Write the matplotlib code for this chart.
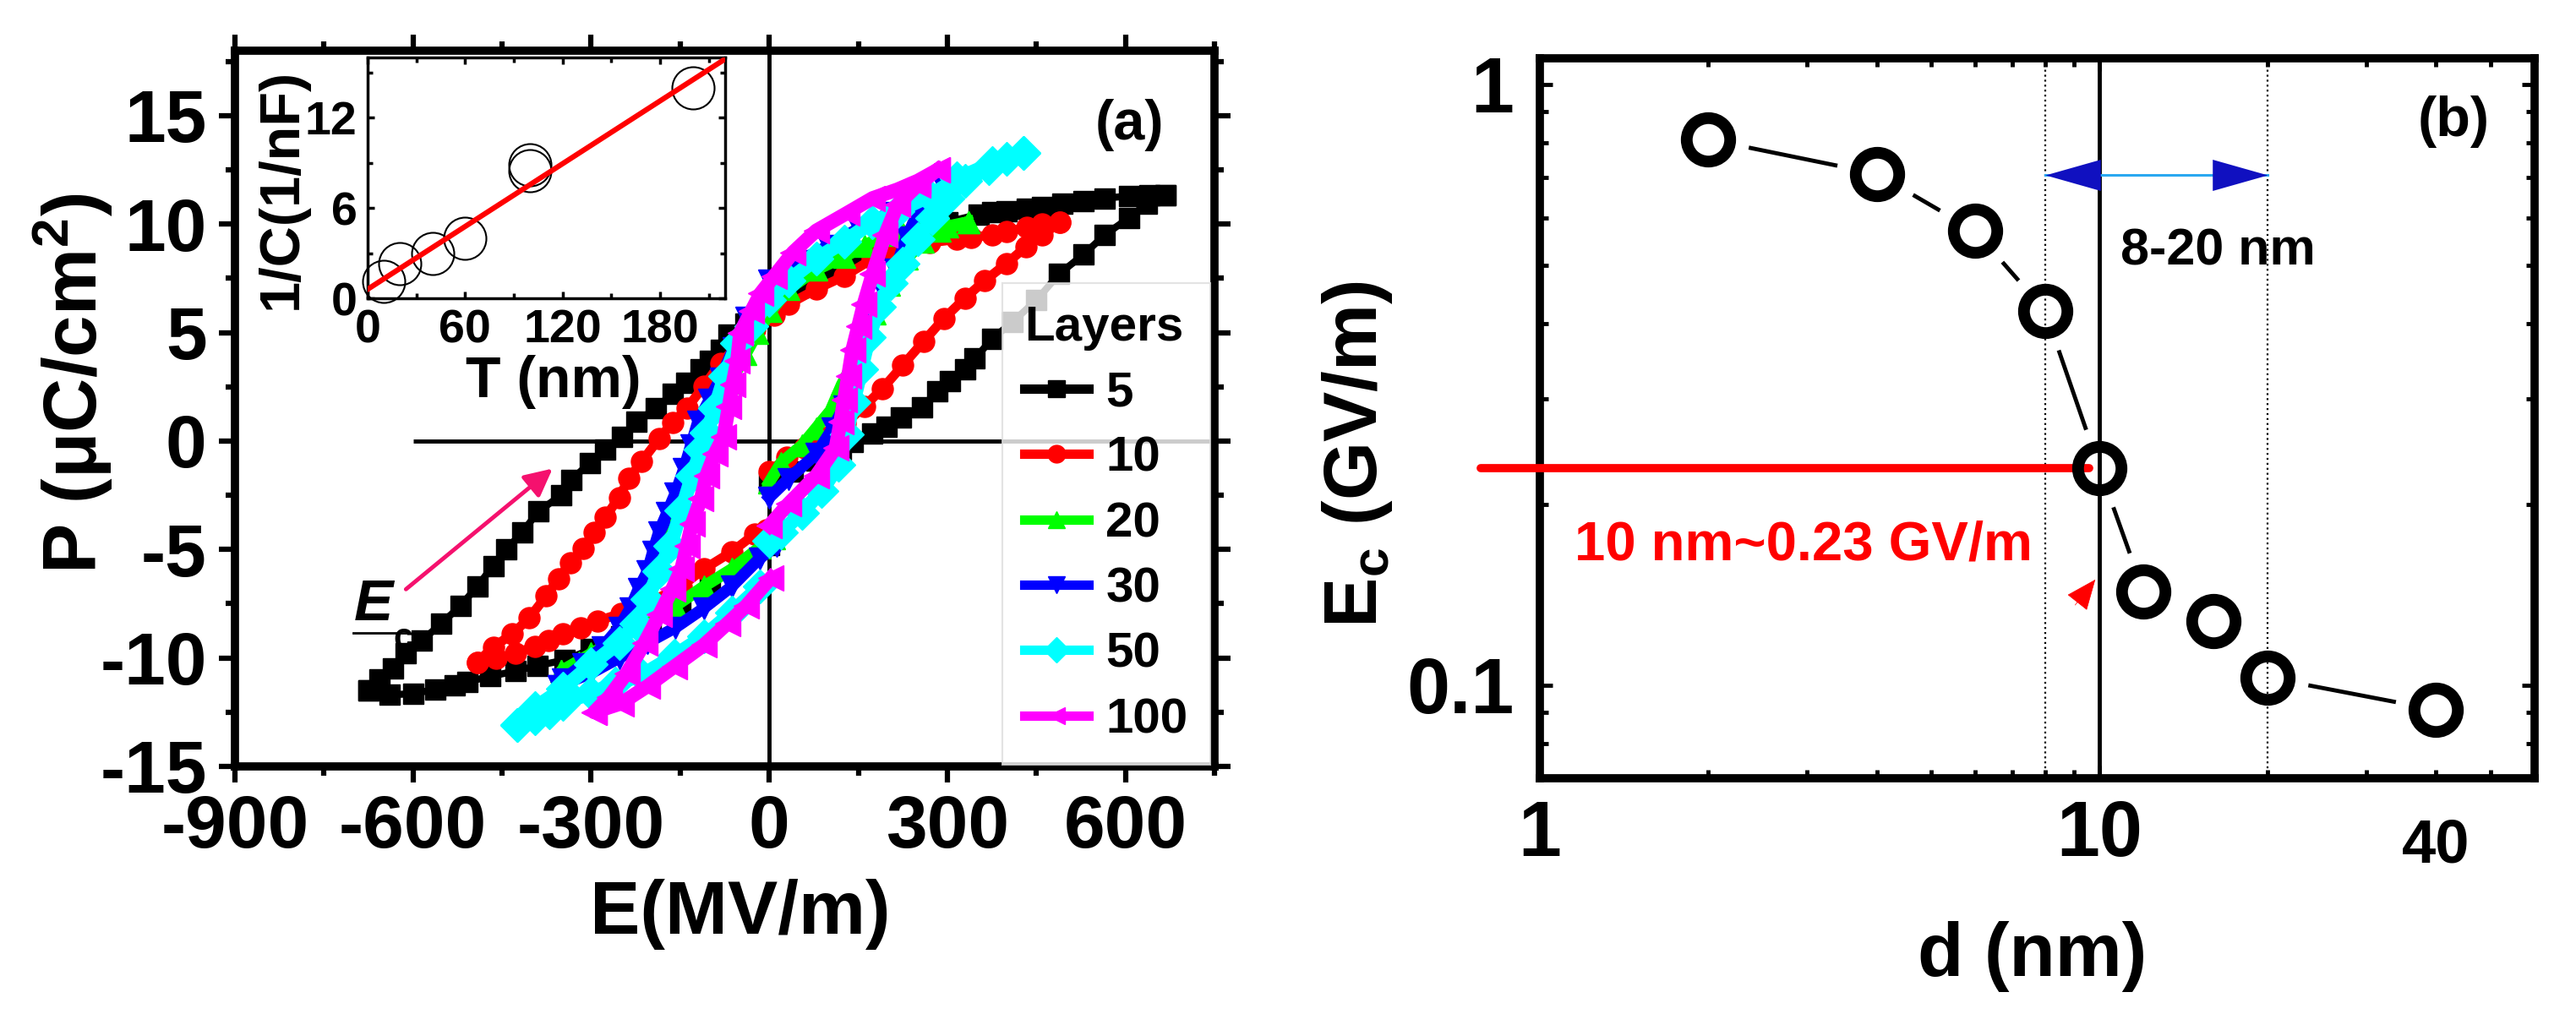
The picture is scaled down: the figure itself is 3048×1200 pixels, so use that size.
import numpy as np
import matplotlib.pyplot as plt
from matplotlib.lines import Line2D
from matplotlib.ticker import MultipleLocator, NullFormatter
from matplotlib.transforms import blended_transform_factory

plt.rcParams['font.family'] = ['Liberation Sans', 'DejaVu Sans']
plt.rcParams['font.weight'] = 'bold'
plt.rcParams['axes.labelweight'] = 'bold'
plt.rcParams['axes.unicode_minus'] = False
plt.rcParams['mathtext.fontset'] = 'custom'
plt.rcParams['mathtext.rm'] = 'Liberation Sans:bold'
plt.rcParams['mathtext.bf'] = 'Liberation Sans:bold'
plt.rcParams['mathtext.it'] = 'Liberation Sans:bold:italic'

# ---------------- panel (a): P-E loops, (E [MV/m], P [uC/cm2]) ----------------
LAYERS = ["5", "10", "20", "30", "50", "100"]
COLORS = ["black", "#ff0000", "#00ff00", "#0000ff", "#00ffff", "#ff00ff"]
MARKERS = ["s", "o", "^", "v", "D", "<"]

# falling branch (+Emax -> -Emax), rising branch up to E=0, rising branch from E=0
L5_DOWN = [(667, 11.35), (640, 11.35), (606, 11.3), (565, 11.2), (529, 11.05), (494, 10.95),
           (460, 10.8), (434, 10.7), (400, 10.6), (375, 10.55), (352, 10.45), (300, 10.1),
           (250, 9.7), (200, 9.2), (150, 8.6), (100, 7.9), (50, 7.1), (0, 6.2), (-40, 5.4),
           (-68, 4.9), (-82, 4.2), (-100, 3.7), (-115, 3.3), (-140, 2.7), (-163, 2.2),
           (-191, 1.5), (-224, 0.9), (-248, 0.2), (-276, -0.4), (-302, -1.0), (-334, -1.8),
           (-351, -2.5), (-389, -3.25), (-416, -4.2), (-443, -5.0), (-465, -5.75),
           (-492, -6.7), (-520, -7.6), (-552, -8.4), (-585, -9.2), (-612, -9.8),
           (-634, -10.5), (-656, -11.0), (-675, -11.5)]
L5_UP_NEG = [(-675, -11.5), (-640, -11.7), (-600, -11.65), (-563, -11.45), (-530, -11.25),
             (-509, -11.1), (-470, -10.85), (-427, -10.6), (-390, -10.35), (-345, -10.1),
             (-300, -9.6), (-250, -9.0), (-200, -8.3), (-150, -7.5), (-100, -6.6),
             (-50, -5.7), (0, -4.8)]
L5_UP_POS = [(0, -1.9), (40, -1.4), (80, -0.9), (120, -0.4), (141, -0.05), (174, 0.35),
             (198, 0.65), (221, 1.1), (257, 1.55), (283, 2.3), (304, 2.75), (330, 3.3),
             (346, 3.8), (375, 4.7), (410, 5.5), (450, 6.5), (488, 7.7), (529, 8.6),
             (565, 9.5), (606, 10.3), (636, 10.95), (667, 11.35)]

L10_DOWN = [(490, 10.1), (460, 10.0), (434, 9.85), (400, 9.65), (375, 9.5), (340, 9.4),
            (316, 9.3), (270, 9.15), (230, 9.0), (200, 8.8), (174, 8.4), (126, 7.6),
            (79, 7.0), (32, 6.3), (8, 5.8), (-25, 5.15), (-54, 4.4), (-82, 3.6),
            (-110, 2.55), (-139, 1.5), (-163, 0.85), (-186, 0.1), (-215, -0.95),
            (-236, -1.7), (-253, -2.6), (-276, -3.5), (-295, -4.2), (-314, -4.95),
            (-335, -5.6), (-355, -6.35), (-376, -7.15), (-404, -8.15), (-433, -8.9),
            (-465, -9.5), (-492, -10.2)]
L10_UP_NEG = [(-492, -10.2), (-460, -10.0), (-427, -9.8), (-395, -9.45), (-372, -9.2),
              (-347, -8.9), (-318, -8.6), (-290, -8.3), (-250, -7.95), (-200, -7.4),
              (-148, -6.7), (-110, -5.9), (-63, -5.1), (-25, -4.3), (-5, -4.1)]
L10_UP_POS = [(0, -1.4), (30, -0.75), (60, -0.3), (100, 0.2), (128, 0.8), (160, 1.6),
              (190, 2.4), (225, 3.5), (260, 4.6), (294, 5.65), (330, 6.6), (363, 7.4),
              (400, 8.2), (432, 8.95), (460, 9.5), (490, 10.1)]

L20_DOWN = [(335, 10.1), (300, 9.9), (257, 9.75), (225, 9.6), (193, 9.5), (160, 9.0),
            (126, 8.5), (79, 7.9), (32, 7.0), (3, 6.0), (-20, 5.0), (-40, 4.0), (-65, 2.7),
            (-90, 1.5), (-112, 0.4), (-130, -0.6), (-146, -1.7), (-160, -2.8), (-175, -3.9),
            (-188, -4.9), (-200, -5.9), (-213, -6.8), (-230, -7.8), (-255, -8.8),
            (-290, -9.7), (-320, -10.2), (-350, -10.6)]
L20_UP_NEG = [(-350, -10.6), (-300, -9.8), (-253, -9.1), (-205, -8.3), (-158, -7.6),
              (-110, -6.7), (-63, -5.9), (-16, -4.9), (8, -4.5)]
L20_UP_POS = [(0, -1.9), (20, -1.0), (55, -0.2), (79, 0.6), (103, 1.4), (122, 2.6),
              (141, 3.6), (164, 5.0), (178, 5.9), (202, 7.2), (231, 8.4), (259, 9.2),
              (287, 9.7), (335, 10.1)]

L30_DOWN = [(295, 11.7), (250, 11.2), (200, 10.5), (150, 9.8), (100, 9.0), (50, 8.3),
            (0, 7.4), (-39, 5.7), (-60, 4.3), (-82, 2.9), (-101, 1.9), (-120, 0.9),
            (-132, -0.2), (-144, -1.3), (-158, -2.4), (-172, -3.3), (-186, -4.2),
            (-196, -5.1), (-205, -6.0), (-220, -6.8), (-234, -7.7), (-253, -8.6),
            (-281, -9.5), (-314, -10.3), (-347, -11.0), (-355, -11.3)]
L30_UP_NEG = [(-355, -11.3), (-300, -10.7), (-253, -10.0), (-205, -9.3), (-158, -8.6),
              (-110, -7.7), (-63, -6.7), (-16, -5.4), (12, -4.85)]
L30_UP_POS = [(0, -2.6), (32, -1.75), (79, -0.6), (107, 0.6), (126, 1.6), (145, 2.9),
              (160, 4.2), (174, 5.5), (193, 6.8), (212, 7.9), (231, 9.4), (259, 11.0),
              (295, 11.7)]

L50_DOWN = [(428, 13.3), (375, 12.8), (316, 12.1), (270, 11.3), (216, 10.6), (174, 10.1),
            (126, 9.2), (79, 8.4), (32, 7.4), (0, 6.5), (-30, 5.3), (-54, 4.5), (-75, 3.0),
            (-92, 1.5), (-105, 0.4), (-115, -0.4), (-130, -1.6), (-148, -3.2),
            (-167, -4.85), (-186, -6.0), (-205, -7.3), (-224, -8.4), (-253, -9.3),
            (-300, -10.3), (-347, -11.4), (-395, -12.3), (-425, -13.1)]
L50_UP_NEG = [(-425, -13.1), (-395, -12.8), (-371, -12.5), (-347, -12.1), (-300, -11.6),
              (-260, -11.2), (-215, -10.8), (-160, -9.9), (-110, -9.0), (-63, -7.9),
              (-16, -6.7)]
L50_UP_POS = [(0, -4.6), (20, -4.2), (55, -3.3), (88, -2.3), (117, -1.1), (130, 0.3),
              (142, 1.8), (155, 3.3), (168, 4.8), (185, 6.2), (205, 7.3), (225, 8.2),
              (250, 9.3), (275, 10.3), (300, 11.2), (330, 12.0), (370, 12.6), (400, 13.0),
              (428, 13.3)]

L100_DOWN = [(283, 12.5), (250, 12.0), (216, 11.6), (174, 11.2), (130, 10.5), (79, 9.7),
             (40, 8.7), (8, 7.6), (-15, 6.8), (-30, 6.0), (-49, 5.0), (-54, 3.7), (-62, 2.6),
             (-68, 1.6), (-77, 0.2), (-92, -0.6), (-106, -1.6), (-115, -2.65), (-130, -3.8),
             (-139, -4.85), (-148, -5.9), (-163, -6.8), (-185, -8.0), (-210, -9.3),
             (-240, -10.7), (-270, -11.8), (-295, -12.5)]
L100_UP_NEG = [(-295, -12.5), (-250, -12.1), (-205, -11.3), (-160, -10.4), (-110, -9.4),
               (-70, -8.4), (-39, -7.6), (3, -6.3)]
L100_UP_POS = [(0, -3.9), (32, -2.9), (79, -1.6), (112, -0.3), (120, 0.9), (126, 1.9),
               (133, 3.0), (140, 4.2), (150, 5.3), (159, 6.3), (174, 7.7), (195, 9.5),
               (216, 10.9), (250, 11.8), (283, 12.5)]

LOOPS = {
    "5": (L5_DOWN, L5_UP_NEG, L5_UP_POS),
    "10": (L10_DOWN, L10_UP_NEG, L10_UP_POS),
    "20": (L20_DOWN, L20_UP_NEG, L20_UP_POS),
    "30": (L30_DOWN, L30_UP_NEG, L30_UP_POS),
    "50": (L50_DOWN, L50_UP_NEG, L50_UP_POS),
    "100": (L100_DOWN, L100_UP_NEG, L100_UP_POS),
}
MSIZE = [17, 18, 19, 19, 20, 21]
LWIDTH = [6, 8, 10, 10, 12, 12]

# inset: 1/C vs thickness
INSET_T = [10, 20, 40, 60, 100, 100, 200]
INSET_INV_C = [1.1, 2.3, 2.95, 4.0, 8.5, 8.9, 14.0]
FIT_T = [0, 220]
FIT_INV_C = [0.6, 15.9]

# ---------------- panel (b): Ec vs d ----------------
D_NM = [2, 4, 6, 8, 10, 12, 16, 20, 40]
EC = [0.81, 0.71, 0.57, 0.42, 0.23, 0.143, 0.128, 0.103, 0.091]
RANGE_NM = [8, 20]
CRIT_D = 10
CRIT_EC = 0.23
ARROW_EC = 0.706

fig = plt.figure(figsize=(30.48, 12), dpi=100)

# ======================= (a) =======================
ax = fig.add_axes([0.0912, 0.2442, 0.3803, 0.7058])

for i, name in enumerate(LAYERS):
    down, up_neg, up_pos = LOOPS[name]
    pts = np.vstack([np.array(down), np.array(up_neg),
                     [[np.nan, np.nan]], np.array(up_pos)])
    ax.plot(pts[:, 0], pts[:, 1], color=COLORS[i], marker=MARKERS[i],
            ms=MSIZE[i], mec=COLORS[i], lw=LWIDTH[i], zorder=3 + i)

ax.axvline(0, color="black", lw=3.5, zorder=2)
ax.hlines(0, -600, 750, color="black", lw=3.5, zorder=2)

ax.set_xlim(-900, 750)
ax.set_ylim(-15, 18)
ax.set_xticks(np.arange(-900, 601, 300))
ax.xaxis.set_minor_locator(MultipleLocator(150))
ax.set_yticks(np.arange(-15, 16, 5))
ax.yaxis.set_minor_locator(MultipleLocator(2.5))
ax.tick_params(which="both", direction="out", top=True, right=True, width=4.5)
ax.tick_params(which="major", length=14, labelsize=63, pad=10)
ax.tick_params(which="minor", length=8)
for s in ax.spines.values():
    s.set_linewidth(7)

ax.set_xlabel("E(MV/m)", fontsize=64)
ax.xaxis.set_label_coords(0.516, -0.157)
ax.set_ylabel(r"P (μC/cm$^\mathbf{2}$)", fontsize=64)
ax.yaxis.set_label_coords(-0.1225, 0.535)

# E_c arrow
ax.annotate("", xy=(-362, -1.2), xytext=(-615, -6.9),
            arrowprops=dict(arrowstyle="-|>,head_length=0.9,head_width=0.45",
                            color="#f5116e", lw=3.5, mutation_scale=22))
ax.text(-666, -7.55, "E", style="italic", fontsize=50, ha="center", va="center")
ax.text(-617, -9.1, "c", fontsize=30, ha="center", va="center")
ax.plot([-700, -610], [-8.84, -8.84], color="black", lw=2)

handles = [Line2D([], [], color=c, marker=m, lw=8, ms=15, mec=c)
           for c, m in zip(COLORS, MARKERS)]
leg = ax.legend(handles, LAYERS, title="Layers", loc="upper left",
                bbox_to_anchor=(1186 / 3048, 1 - 335 / 1200),
                bbox_transform=fig.transFigure, borderaxespad=0, fontsize=42,
                title_fontproperties={"weight": "bold", "size": 42},
                frameon=True, fancybox=False, edgecolor="#dddddd",
                handlelength=1.3, handletextpad=0.35, labelspacing=0.4,
                borderpad=0.45, alignment="left")
leg.get_frame().set_linewidth(1.5)
leg.set_zorder(20)

fig.text(1336 / 3048, 1 - 148 / 1200, "(a)", fontsize=48, ha="center", va="center")

# inset
axi = fig.add_axes([0.1427, 0.7058, 0.1388, 0.2375])
axi.plot(FIT_T, FIT_INV_C, color="red", lw=4.5, zorder=3)
axi.plot(INSET_T, INSET_INV_C, "o", mfc="none", mec="black", ms=36, mew=1.5,
         clip_on=False, zorder=2)
axi.set_xlim(0, 220)
axi.set_ylim(0, 16)
axi.set_xticks([0, 60, 120, 180])
axi.xaxis.set_minor_locator(MultipleLocator(30))
axi.set_yticks([0, 6, 12])
axi.yaxis.set_minor_locator(MultipleLocator(3))
axi.tick_params(which="both", direction="in", top=True, right=True, width=2.5,
                labelsize=40, pad=9)
axi.tick_params(which="major", length=6)
axi.tick_params(which="minor", length=4)
for s in axi.spines.values():
    s.set_linewidth(2.5)
axi.set_xlabel("T (nm)", fontsize=49)
axi.xaxis.set_label_coords(0.52, -0.235)
axi.set_ylabel("1/C(1/nF)", fontsize=48)
axi.yaxis.set_label_coords(-0.165, 0.456)

# ======================= (b) =======================
bx = fig.add_axes([0.5978, 0.2325, 0.3861, 0.71])
bx.set_xscale("log")
bx.set_yscale("log")
bx.set_xlim(1, 60)
bx.set_ylim(0.07, 1.105)

bx.plot(D_NM, EC, color="black", lw=3.5, zorder=2)
bx.plot(D_NM, EC, "o", color="white", ms=70, mew=0, zorder=3)
bx.plot(D_NM, EC, "o", mfc="none", mec="black", ms=37, mew=10, zorder=5)

bx.axvline(CRIT_D, color="black", lw=3.5, zorder=4)
for d in RANGE_NM:
    bx.axvline(d, color="black", lw=1.6, ls=":", zorder=4)

bx.plot([0.783, CRIT_D * 0.96], [CRIT_EC, CRIT_EC], color="red", lw=7,
        solid_capstyle="round", clip_on=False, zorder=4)
bx.annotate("", xy=(9.9, 0.151), xytext=(9.0, 0.135),
            arrowprops=dict(arrowstyle="-|>,head_length=1.2,head_width=0.5",
                            color="red", lw=0.5, mutation_scale=20), zorder=6)

# 8-20 nm double arrow
bx.plot(RANGE_NM, [ARROW_EC, ARROW_EC], color="#2aa8f0", lw=2.2, zorder=4)
bx.plot([RANGE_NM[0]], [ARROW_EC], marker=[(0, 0), (3, 0.85), (3, -0.85), (0, 0)],
        ms=94, color="#1010c0", mew=0, zorder=5)
bx.plot([RANGE_NM[1]], [ARROW_EC], marker=[(0, 0), (-3, 0.85), (-3, -0.85), (0, 0)],
        ms=94, color="#1010c0", mew=0, zorder=5)

bx.set_xticks([1, 10])
bx.set_xticklabels(["1", "10"])
bx.xaxis.set_minor_formatter(NullFormatter())
bx.set_yticks([0.1, 1])
bx.set_yticklabels(["0.1", "1"])
bx.yaxis.set_minor_formatter(NullFormatter())
bx.tick_params(which="both", direction="in", top=True, right=True, width=3.5)
bx.tick_params(which="major", length=11, labelsize=66)
bx.tick_params(which="minor", length=7)
bx.tick_params(axis="x", which="major", pad=18)
bx.tick_params(axis="y", which="major", pad=22)
for s in bx.spines.values():
    s.set_linewidth(7)

bx.text(40, -0.054, "40", fontsize=52, ha="center", va="top",
        transform=blended_transform_factory(bx.transData, bx.transAxes))

bx.set_xlabel("d (nm)", fontsize=64)
bx.xaxis.set_label_coords(0.495, -0.198)
bx.set_ylabel(r"E$_\mathbf{c}$ (GV/m)", fontsize=64)
bx.yaxis.set_label_coords(-0.146, 0.4495)

fig.text(2134 / 3048, 1 - 646 / 1200, "10 nm~0.23 GV/m", color="red", fontsize=47,
         ha="center", va="center")
fig.text(2624 / 3048, 1 - 298 / 1200, "8-20 nm", fontsize=44, ha="center", va="center")
fig.text(2903 / 3048, 1 - 144 / 1200, "(b)", fontsize=48, ha="center", va="center")

fig.savefig("out.png", dpi=100)
